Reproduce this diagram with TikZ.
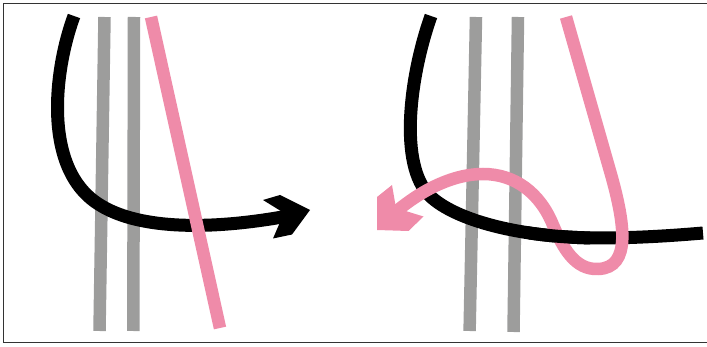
\documentclass[tikz,border=0pt]{standalone}
\definecolor{ropegray}{RGB}{157,157,156}
\definecolor{ropepink}{RGB}{239,139,169}
\tikzset{
  graystrand/.style={draw=ropegray,line width=12.5pt,line cap=butt},
  pinkstrand/.style={draw=ropepink,line width=12.5pt,line cap=butt},
  blackstrand/.style={draw=black,line width=13pt,line cap=butt},
  frameline/.style={draw=black!80,line width=1.2pt}
}
\begin{document}
\begin{tikzpicture}[x=1pt,y=-1pt]
\useasboundingbox (0,0) rectangle (707,347);
\draw[frameline] (707,3.2) -- (3.5,3.2) -- (3.5,342.8) -- (707,342.8);

% ---------- left panel ----------
\draw[graystrand] (104.5,17) -- (99.5,331);
\draw[graystrand] (134,17) -- (133.3,331);
\draw[blackstrand] (74,16) .. controls (54,70) and (42,170) .. (100,205)
  .. controls (135,227) and (200,232) .. (288,216);
\fill[black] (310,210) -- (280,195) -- (263,200) -- (284,213) -- (273,238.5) -- (292,234.5) -- cycle;
\draw[pinkstrand] (151,17) -- (220,328);

% ---------- right panel ----------
\draw[graystrand] (476,17) -- (469.6,331);
\draw[graystrand] (518,17) -- (513.5,332);
\draw[blackstrand] (431,16) .. controls (410,75) and (398,165) .. (430,196)
  .. controls (455,220) and (520,238) .. (600,238)
  .. controls (640,238) and (680,235) .. (703,233);
\draw[pinkstrand] (566,17) -- (612,178)
  .. controls (624,222) and (632,268) .. (598,269)
  .. controls (575,270) and (563,248) .. (553,225)
  .. controls (540,193) and (515,174) .. (483,174)
  .. controls (455,174) and (425,188) .. (398,210);
\fill[ropepink] (377,230) -- (377,197) -- (392,185) -- (396,208) -- (423.5,216.5) -- (408.5,231) -- cycle;
\begin{scope}
  \clip (528,215) rectangle (590,260);
  \draw[blackstrand] (430,196)
    .. controls (455,220) and (520,238) .. (600,238);
\end{scope}
\end{tikzpicture}
\end{document}
